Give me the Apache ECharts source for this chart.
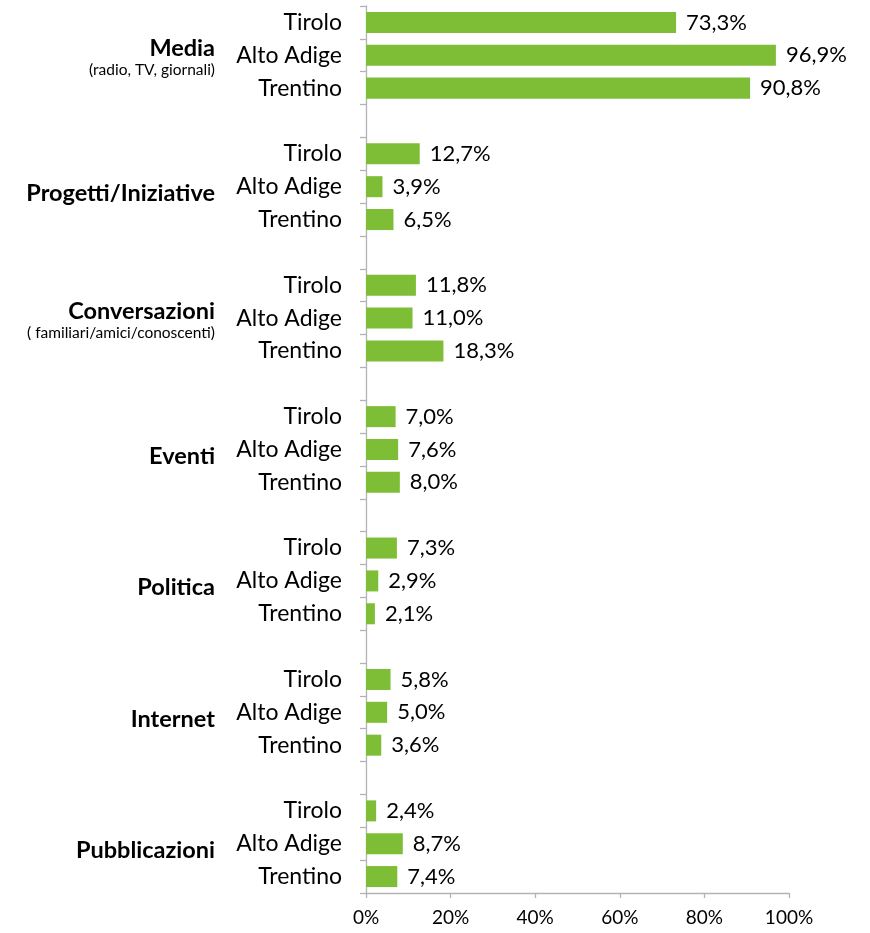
<!DOCTYPE html>
<html>
<head>
<meta charset="utf-8">
<script src="https://cdn.jsdelivr.net/npm/echarts@6/dist/echarts.min.js"></script>
<style>html,body{margin:0;padding:0;background:#fff;}#chart{width:870px;height:933px;}</style>
</head>
<body>
<div id="chart"></div>
<script>
const groups = ['Media','Progetti/Iniziative','Conversazioni','Eventi','Politica','Internet','Pubblicazioni'];
const groupNotes = ['(radio, TV, giornali)','','( familiari/amici/conoscenti)','','','',''];
const regions = ['Tirolo','Alto Adige','Trentino'];
const tirolo    = [73.3,12.7,11.8,7.0,7.3,5.8,2.4];
const altoAdige = [96.9, 3.9,11.0,7.6,2.9,5.0,8.7];
const trentino  = [90.8, 6.5,18.3,8.0,2.1,3.6,7.4];
const xTicks = [0,20,40,60,80,100];

const byRegion = [tirolo, altoAdige, trentino];
const slotLabels = [], slotGroups = [], slotValues = [];
groups.forEach((g, gi) => {
  regions.forEach((r, ri) => {
    slotLabels.push(r);
    slotGroups.push(ri === 1 ? (groupNotes[gi] ? '{b|' + g + '}\n{s|' + groupNotes[gi] + '}' : '{b|' + g + '}') : '');
    slotValues.push(byRegion[ri][gi]);
  });
  if (gi < groups.length - 1) { slotLabels.push(''); slotGroups.push(''); slotValues.push(null); }
});
const slotIds = slotLabels.map((_, i) => 'c' + i);

const chart = echarts.init(document.getElementById('chart'));
const font = 'Lato, "Noto Sans", sans-serif';
chart.setOption({
  animation: false,
  textStyle: { fontFamily: font },
  grid: { left: 366, right: 81, top: 6, bottom: 40 },
  xAxis: {
    type: 'value', min: 0, max: 100, interval: 20,
    axisLine: { show: true, lineStyle: { color: '#B3B3B3', width: 1.3 } },
    axisTick: { show: true, length: 5, lineStyle: { color: '#B3B3B3', width: 1.3 } },
    splitLine: { show: false },
    axisLabel: { formatter: v => xTicks.includes(v) ? v + '%' : '', color: '#000', fontSize: 19, margin: 15, fontFamily: font }
  },
  yAxis: [{
    type: 'category', data: slotIds, inverse: true,
    axisLine: { show: true, lineStyle: { color: '#B3B3B3', width: 1.3 } },
    axisTick: { show: true, length: 6, lineStyle: { color: '#B3B3B3', width: 1.3 } },
    axisLabel: { formatter: (v, i) => slotLabels[i], color: '#000', fontSize: 23, margin: 24, fontFamily: font }
  }, {
    type: 'category', data: slotIds, inverse: true, position: 'left', offset: 0,
    axisLine: { show: false }, axisTick: { show: false },
    axisLabel: {
      formatter: (v, i) => slotGroups[i], margin: 151, align: 'right',
      rich: {
        b: { fontSize: 23.5, fontWeight: 'bold', color: '#000', fontFamily: font, align: 'right', lineHeight: 30, padding: [14,0,0,0] },
        s: { fontSize: 15.5, color: '#000', fontFamily: font, align: 'right', lineHeight: 28 }
      }
    }
  }],
  series: [{
    type: 'bar', yAxisIndex: 0, data: slotValues, barWidth: '64%',
    itemStyle: { color: '#7DBE36' },
    label: {
      show: true, position: 'right', distance: 10, color: '#000', fontSize: 22, fontFamily: font,
      formatter: p => p.value == null ? '' : p.value.toFixed(1).replace('.', ',') + '%'
    }
  }]
});
</script>
</body>
</html>
